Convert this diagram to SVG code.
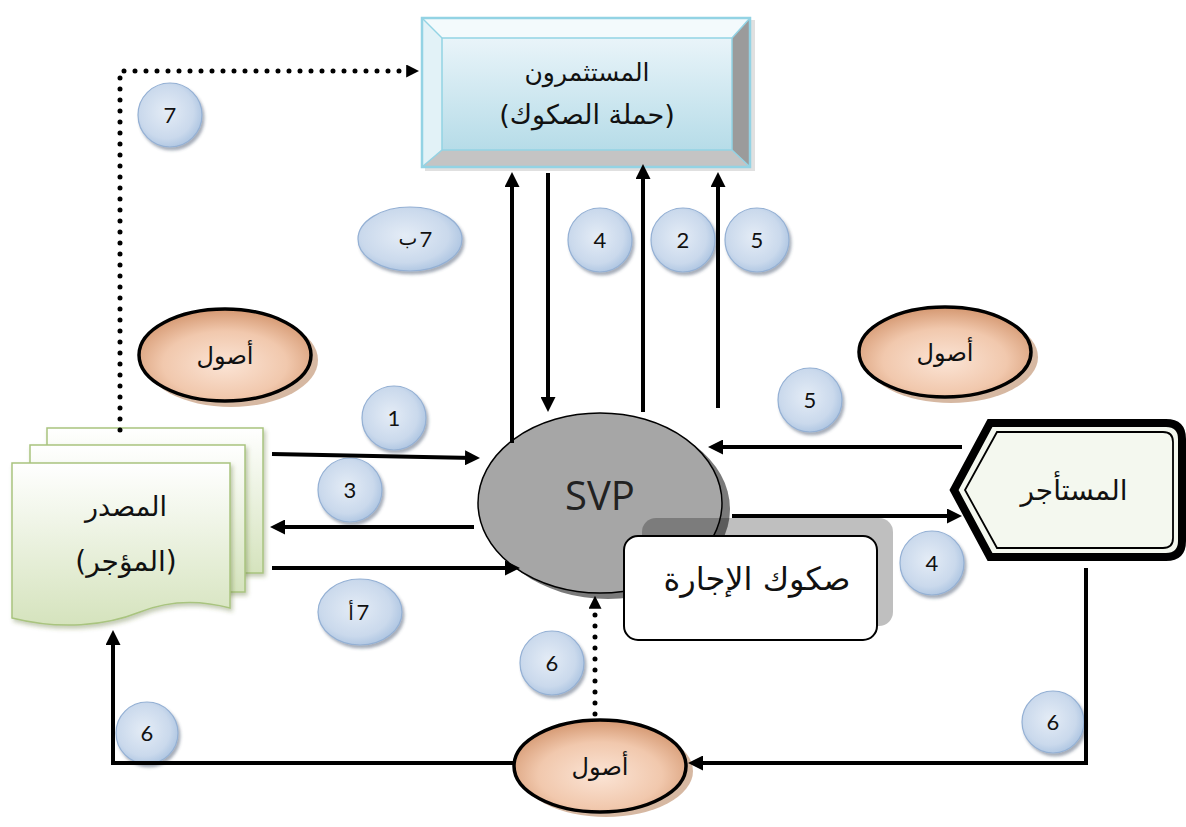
<svg xmlns="http://www.w3.org/2000/svg" width="1186" height="827" viewBox="0 0 1186 827">
<style>
.ar{font-family:'DejaVu Sans','Noto Sans',sans-serif;fill:#111;text-anchor:middle}
.num{font-family:Lato,'Open Sans',sans-serif;font-size:22px;fill:#111;text-anchor:middle}
.let{font-family:'DejaVu Sans',sans-serif;font-size:20px;fill:#111;text-anchor:middle}
.badge{fill:url(#gBadge);stroke:#94b0d4;stroke-width:1.2;filter:url(#shB)}
.asset{fill:url(#gAsset);stroke:#000;stroke-width:3.5}
.assetSh{fill:#c8a083;opacity:.75}
.conn{fill:none;stroke:#000;stroke-width:4}
.dot{fill:none;stroke:#000;stroke-width:5;stroke-linecap:round;stroke-dasharray:0 11}
.page{stroke:#a9c47f;stroke-width:1.5;fill:url(#gPage)}
</style>
<defs>
<radialGradient id="gBadge" cx="0.45" cy="0.45" r="0.6">
<stop offset="0" stop-color="#e4ecf6"/><stop offset="0.7" stop-color="#cad9ec"/><stop offset="1" stop-color="#a9c2e0"/>
</radialGradient>
<radialGradient id="gAsset" cx="0.5" cy="0.6" r="0.6">
<stop offset="0" stop-color="#fbe4d5"/><stop offset="0.6" stop-color="#f1c8ad"/><stop offset="1" stop-color="#d49770"/>
</radialGradient>
<linearGradient id="gPage" x1="0" y1="0" x2="0" y2="1">
<stop offset="0" stop-color="#ffffff"/><stop offset="1" stop-color="#d5e3bd"/>
</linearGradient>
<linearGradient id="gFace" x1="0" y1="0" x2="0" y2="1">
<stop offset="0" stop-color="#e9f4f9"/><stop offset="1" stop-color="#b6dce8"/>
</linearGradient>
<filter id="shB" x="-30%" y="-30%" width="160%" height="170%">
<feDropShadow dx="2" dy="3" stdDeviation="1.5" flood-color="#3a4a66" flood-opacity="0.45"/>
</filter>
<filter id="shP" x="-10%" y="-10%" width="130%" height="130%">
<feDropShadow dx="2" dy="3" stdDeviation="2" flood-color="#556b2f" flood-opacity="0.35"/>
</filter>
<marker id="ah" viewBox="0 0 10 10" refX="6" refY="5" markerWidth="15" markerHeight="15" markerUnits="userSpaceOnUse" orient="auto">
<path d="M0,0 L10,5 L0,10 z" fill="#000"/>
</marker>
<marker id="ahs" viewBox="0 0 10 10" refX="6" refY="5" markerWidth="13" markerHeight="13" markerUnits="userSpaceOnUse" orient="auto">
<path d="M0,0 L10,5 L0,10 z" fill="#000"/>
</marker>
</defs>
<rect width="1186" height="827" fill="#fff"/>

<g id="investors">
<rect x="425" y="20" width="330" height="151" fill="#000" opacity="0.12"/>
<polygon points="422,18 750,18 732,38 442,38" fill="#f3fafc"/>
<polygon points="422,18 442,38 442,150 422,167" fill="#e2f2f7"/>
<polygon points="750,18 750,167 732,150 732,38" fill="#9b9b9b"/>
<polygon points="422,167 750,167 732,150 442,150" fill="#c4c4c4"/>
<rect x="442" y="38" width="290" height="112" fill="url(#gFace)"/>
<rect x="422" y="18" width="328" height="149" fill="none" stroke="#93d3e4" stroke-width="2.5"/>
<g stroke="#93d3e4" stroke-width="1.5"><line x1="422" y1="18" x2="442" y2="38"/><line x1="750" y1="18" x2="732" y2="38"/><line x1="422" y1="167" x2="442" y2="150"/><line x1="750" y1="167" x2="732" y2="150"/><rect x="442" y="38" width="290" height="112" fill="none"/></g>
<text class="ar" x="587" y="81" font-size="25" direction="rtl">المستثمرون</text>
<text class="ar" x="587" y="124" font-size="27" direction="rtl">(حملة الصكوك)</text>
</g>

<g id="source">
<rect class="page" x="47" y="428" width="216" height="145" filter="url(#shP)"/>
<rect class="page" x="30" y="445" width="215" height="147" filter="url(#shP)"/>
<path class="page" filter="url(#shP)" d="M12,463 H230 V608 C200,600 170,600 140,612 C105,626 60,630 12,618 Z"/>
<text class="ar" x="126" y="516" font-size="27" direction="rtl">المصدر</text>
<text class="ar" x="126" y="571" font-size="28" direction="rtl">(المؤجر)</text>
</g>

<g id="svp">
<ellipse cx="608" cy="509" rx="122" ry="90" fill="#7a7a7a"/>
<ellipse cx="600" cy="503" rx="122" ry="90" fill="#a6a6a6" stroke="#000" stroke-width="1.5"/>
<text x="600" y="510" font-family="'Open Sans',Lato,sans-serif" font-size="40" fill="#222" text-anchor="middle">SVP</text>
</g>

<g id="sukuk">
<rect x="642" y="518" width="251" height="108" rx="14" fill="#000" opacity="0.25"/>
<rect x="624" y="536" width="253" height="104" rx="14" fill="#fff" stroke="#000" stroke-width="2"/>
<text class="ar" x="757" y="590" font-size="32" direction="rtl">صكوك الإجارة</text>
</g>

<g id="lessee">
<path d="M990,423 H1166 Q1182,423 1182,439 V541 Q1182,557 1166,557 H990 L954,490 Z" fill="#f4f8ef" stroke="#000" stroke-width="8" stroke-linejoin="miter"/>
<path d="M997,432 H1163 Q1173,432 1173,442 V538 Q1173,548 1163,548 H997 L965,490 Z" fill="none" stroke="#000" stroke-width="1.8"/>
<text class="ar" x="1074" y="500" font-size="28" direction="rtl">المستأجر</text>
</g>

<g id="asset-left">
<ellipse class="assetSh" cx="231" cy="360" rx="87" ry="47"/>
<ellipse class="asset" cx="225" cy="355" rx="86" ry="46"/>
<text class="ar" x="225" y="364" font-size="24" direction="rtl">أصول</text>
</g>
<g id="asset-right">
<ellipse class="assetSh" cx="951" cy="357" rx="87" ry="46"/>
<ellipse class="asset" cx="945" cy="352" rx="86" ry="45"/>
<text class="ar" x="945" y="361" font-size="24" direction="rtl">أصول</text>
</g>
<g id="asset-bottom">
<ellipse class="assetSh" cx="606" cy="771" rx="87" ry="46"/>
<ellipse class="asset" cx="600" cy="766" rx="86" ry="46"/>
<text class="ar" x="600" y="775" font-size="24" direction="rtl">أصول</text>
</g>

<g id="badges">
<g id="b7"><circle class="badge" cx="170" cy="115" r="32"/><text class="num" x="170" y="123">7</text></g>
<g id="b7b"><ellipse class="badge" cx="410" cy="239" rx="52" ry="32"/><text class="let" x="408" y="245">ب</text><text class="num" x="426" y="247">7</text></g>
<g id="b4top"><circle class="badge" cx="600" cy="240" r="32"/><text class="num" x="600" y="248">4</text></g>
<g id="b2"><circle class="badge" cx="683" cy="240" r="32"/><text class="num" x="683" y="248">2</text></g>
<g id="b5top"><circle class="badge" cx="757" cy="240" r="32"/><text class="num" x="757" y="248">5</text></g>
<g id="b1"><circle class="badge" cx="394" cy="418" r="32"/><text class="num" x="394" y="426">1</text></g>
<g id="b3"><circle class="badge" cx="350" cy="490" r="32"/><text class="num" x="350" y="498">3</text></g>
<g id="b7a"><ellipse class="badge" cx="360" cy="612" rx="42" ry="33"/><text class="let" x="351" y="620">أ</text><text class="num" x="363" y="620">7</text></g>
<g id="b5right"><circle class="badge" cx="810" cy="400" r="32"/><text class="num" x="810" y="408">5</text></g>
<g id="b4right"><circle class="badge" cx="932" cy="563" r="32"/><text class="num" x="932" y="571">4</text></g>
<g id="b6mid"><circle class="badge" cx="552" cy="663" r="32"/><text class="num" x="552" y="671">6</text></g>
<g id="b6right"><circle class="badge" cx="1053" cy="722" r="31"/><text class="num" x="1053" y="730">6</text></g>
<g id="b6left"><circle class="badge" cx="147" cy="733" r="31"/><text class="num" x="147" y="741">6</text></g>
</g>

<g id="connectors">
<path class="dot" d="M120,430 V71 H414" marker-end="url(#ahs)"/>
<path class="conn" d="M272,454 L474,458" marker-end="url(#ah)"/>
<path class="conn" d="M474,527 H276" marker-end="url(#ah)"/>
<path class="conn" d="M272,568 H514" marker-end="url(#ah)"/>
<path class="conn" d="M512,443 V178" marker-end="url(#ah)"/>
<path class="conn" d="M548,173 V406" marker-end="url(#ah)"/>
<path class="conn" d="M643,412 V170" marker-end="url(#ah)"/>
<path class="conn" d="M718,408 V178" marker-end="url(#ah)"/>
<path class="conn" d="M962,447 H714" marker-end="url(#ah)"/>
<path class="conn" d="M732,516 H956" marker-end="url(#ah)"/>
<path class="dot" d="M595,714 V601" marker-end="url(#ahs)"/>
<path class="conn" d="M1086,568 V763 H694" stroke-width="5" marker-end="url(#ah)"/>
<path class="conn" d="M513,763 H113 V636" stroke-width="5" marker-end="url(#ah)"/>
</g>
</svg>
